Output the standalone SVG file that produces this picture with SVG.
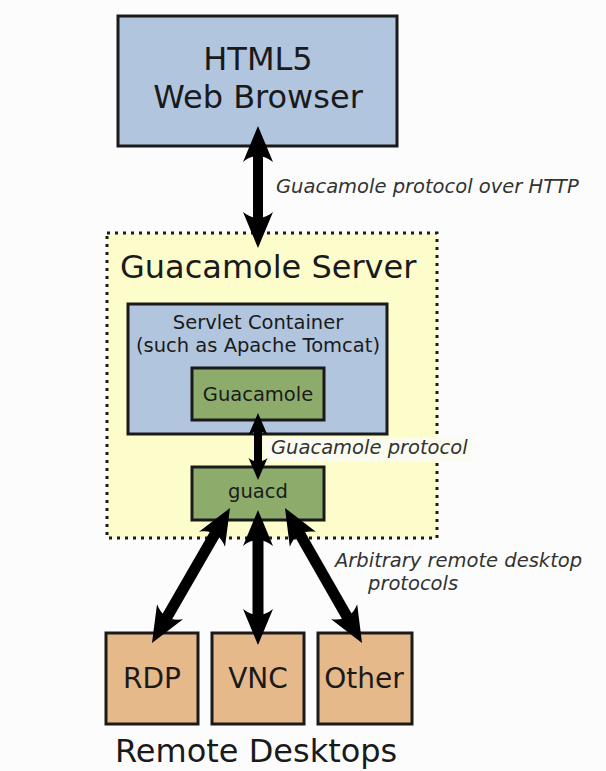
<svg xmlns="http://www.w3.org/2000/svg" width="606" height="771" viewBox="0 0 606 771">
<style>
  .box { stroke: #1a1a1a; stroke-width: 3; }
  .blue { fill: #b1c5df; }
  .green { fill: #8dac6c; }
  .tan { fill: #e6b98a; }
  .t { font-family: "DejaVu Sans", "Liberation Sans", sans-serif; fill: #1a1a1a; text-anchor: middle; }
  .lbl { font-family: "DejaVu Sans", "Liberation Sans", sans-serif; font-style: italic; font-size: 19.5px; fill: #333; }
  .conn { stroke: #000; fill: none; }
</style>
<defs>
  <marker id="big" markerUnits="userSpaceOnUse" viewBox="-40 -17 42 34" refX="-20" refY="0" markerWidth="42" markerHeight="34" orient="auto-start-reverse">
    <path d="M0,0 L-36,-15 C-28,-5 -28,5 -36,15 Z" fill="#000"/>
  </marker>
  <marker id="small" markerUnits="userSpaceOnUse" viewBox="-26 -11 28 22" refX="-12" refY="0" markerWidth="28" markerHeight="22" orient="auto-start-reverse">
    <path d="M0,0 L-22,-9.5 C-17,-3 -17,3 -22,9.5 Z" fill="#000"/>
  </marker>
</defs>
<rect width="606" height="771" fill="#fcfcfc"/>

<g id="server">
  <rect x="107" y="233" width="330" height="305" fill="#fdfccb" stroke="#1a1a1a" stroke-width="3" stroke-dasharray="3 5"/>
  <text class="t" x="120" y="278" font-size="32" style="text-anchor:start">Guacamole Server</text>
</g>

<g id="browser">
  <rect class="box blue" x="118" y="16" width="279" height="130"/>
  <text class="t" x="258" y="70" font-size="32">HTML5</text>
  <text class="t" x="258" y="108" font-size="32">Web Browser</text>
</g>

<g id="servlet">
  <rect class="box blue" x="128" y="304" width="259" height="130"/>
  <text class="t" x="258" y="329" font-size="19.5">Servlet Container</text>
  <text class="t" x="258" y="352" font-size="19.5">(such as Apache Tomcat)</text>
</g>

<g id="guacamole">
  <rect class="box green" x="192" y="368" width="132" height="52"/>
  <text class="t" x="258" y="401" font-size="19.5">Guacamole</text>
</g>

<g id="guacd">
  <rect class="box green" x="192" y="467" width="132" height="53"/>
  <text class="t" x="258" y="498" font-size="19.5">guacd</text>
</g>

<g id="rdp">
  <rect class="box tan" x="106" y="633" width="92" height="91"/>
  <text class="t" x="152" y="688" font-size="28">RDP</text>
</g>
<g id="vnc">
  <rect class="box tan" x="212" y="633" width="92" height="91"/>
  <text class="t" x="258" y="688" font-size="28">VNC</text>
</g>
<g id="other">
  <rect class="box tan" x="318" y="633" width="94" height="91"/>
  <text class="t" x="364" y="688" font-size="28">Other</text>
</g>

<g id="remote-desktops-label">
  <text class="t" x="115" y="762" font-size="32" style="text-anchor:start">Remote Desktops</text>
</g>

<g id="connectors">
  <line class="conn" x1="258" y1="146" x2="258" y2="228" stroke-width="10" marker-start="url(#big)" marker-end="url(#big)"/>
  <rect x="264" y="437" width="208" height="25" fill="#fbfbef"/>
  <line class="conn" x1="258" y1="425" x2="258" y2="468" stroke-width="8" marker-start="url(#small)" marker-end="url(#small)"/>
  <line class="conn" x1="220" y1="525.3" x2="162" y2="625.7" stroke-width="11" marker-start="url(#big)" marker-end="url(#big)"/>
  <line class="conn" x1="258" y1="530" x2="258" y2="625" stroke-width="11" marker-start="url(#big)" marker-end="url(#big)"/>
  <line class="conn" x1="294.9" y1="525.4" x2="352.1" y2="625.6" stroke-width="11" marker-start="url(#big)" marker-end="url(#big)"/>
  <text class="lbl" x="276" y="193">Guacamole protocol over HTTP</text>
  <text class="lbl" x="271" y="454">Guacamole protocol</text>
  <text class="lbl" x="335" y="567">Arbitrary remote desktop</text>
  <text class="lbl" x="368" y="590">protocols</text>
</g>
</svg>
